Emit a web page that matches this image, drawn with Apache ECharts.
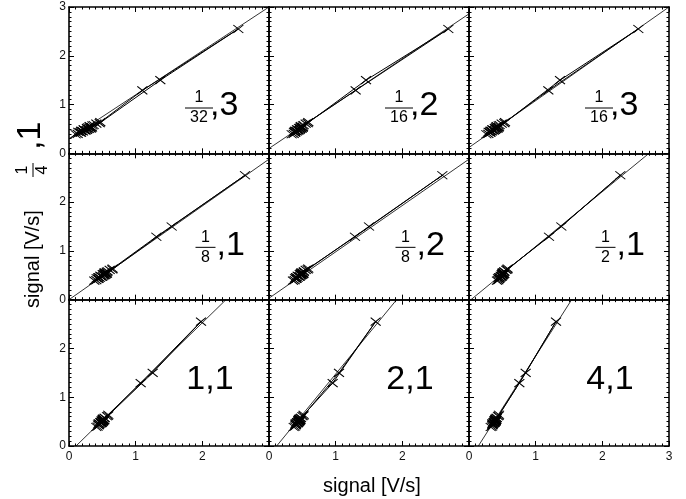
<!DOCTYPE html>
<html><head><meta charset="utf-8">
<script src="https://cdn.jsdelivr.net/npm/echarts@6/dist/echarts.min.js"></script>
<style>html,body{margin:0;padding:0;background:#fff}#c{width:686px;height:499px}</style>
</head><body><div id="c"></div>
<script>
// shared reference signal (y) for each sample, in time order
const ySignal = [0.40,0.44,0.48,0.46,0.515,0.49,0.54,0.51,0.57,0.53,0.61,0.64,1.29,2.55,1.50,0.62,0.56,0.50,0.52,0.47,0.535,0.45,0.485,0.425,0.39,0.47,0.52,0.43,0.55,0.50,0.58,0.46,0.53];
// measured signal (x) per panel
const xPanel1 = [0.13,0.14,0.27,0.19,0.32,0.22,0.34,0.33,0.35,0.345,0.41,0.47,1.10,2.54,1.37,0.46,0.31,0.30,0.27,0.25,0.29,0.21,0.225,0.18,0.10,0.24,0.27,0.17,0.31,0.28,0.37,0.18,0.33];
const xPanel2 = [0.37,0.375,0.46,0.40,0.49,0.42,0.51,0.49,0.51,0.505,0.55,0.59,1.30,2.69,1.455,0.58,0.48,0.47,0.46,0.44,0.475,0.42,0.43,0.39,0.34,0.44,0.45,0.395,0.475,0.47,0.52,0.39,0.505];
const xPanel3 = [0.29,0.295,0.39,0.33,0.42,0.35,0.45,0.43,0.445,0.44,0.49,0.54,1.19,2.54,1.365,0.53,0.415,0.41,0.395,0.37,0.405,0.345,0.355,0.32,0.26,0.37,0.385,0.32,0.415,0.40,0.46,0.32,0.44];
const xPanel4 = [0.41,0.415,0.51,0.45,0.54,0.47,0.57,0.545,0.565,0.56,0.61,0.655,1.31,2.64,1.54,0.65,0.535,0.53,0.515,0.49,0.525,0.465,0.475,0.44,0.38,0.49,0.505,0.44,0.535,0.52,0.58,0.44,0.56];
const xPanel5 = [0.385,0.39,0.465,0.41,0.50,0.43,0.515,0.495,0.52,0.51,0.55,0.59,1.29,2.60,1.50,0.58,0.49,0.48,0.47,0.455,0.475,0.43,0.435,0.41,0.36,0.455,0.46,0.41,0.48,0.48,0.525,0.405,0.515];
const xPanel6 = [0.44,0.435,0.495,0.46,0.51,0.475,0.52,0.515,0.53,0.525,0.56,0.58,1.20,2.27,1.385,0.575,0.51,0.50,0.495,0.485,0.505,0.47,0.48,0.45,0.42,0.485,0.49,0.455,0.50,0.505,0.53,0.45,0.53];
const xPanel7 = [0.43,0.435,0.495,0.45,0.51,0.47,0.52,0.515,0.535,0.525,0.57,0.59,1.075,1.98,1.255,0.585,0.51,0.50,0.49,0.485,0.505,0.46,0.48,0.445,0.41,0.48,0.49,0.45,0.505,0.505,0.535,0.445,0.53];
const xPanel8 = [0.39,0.395,0.44,0.405,0.46,0.42,0.47,0.455,0.475,0.465,0.50,0.52,0.955,1.60,1.05,0.515,0.46,0.45,0.44,0.43,0.445,0.41,0.425,0.40,0.37,0.43,0.44,0.405,0.45,0.445,0.48,0.40,0.47];
const xPanel9 = [0.345,0.35,0.385,0.355,0.40,0.37,0.41,0.40,0.415,0.405,0.435,0.45,0.755,1.305,0.85,0.445,0.40,0.395,0.385,0.375,0.39,0.36,0.37,0.35,0.325,0.375,0.38,0.355,0.395,0.39,0.415,0.35,0.405];
// reference (fit) line end points per panel
const fitStart = [[0,0.30],[0,0.10],[0,0.12],[0,0.0],[0,0.03],[0.03,0],[0.105,0],[0.115,0],[0.14,0]];
const fitEnd   = [[3,3.0],[3,2.86],[3,3.0],[3,2.88],[3,2.88],[2.70,3],[2.355,3],[1.915,3],[1.54,3]];
// panel annotations
const panelNum  = ['1','1','1','1','1','1','','',''];
const panelDen  = ['32','16','16','8','8','2','','',''];
const panelTail = [',3',',2',',3',',1',',2',',1','1,1','2,1','4,1'];
const tickLabels = ['0','1','2','3'];
const axisTitle = 'signal [V/s]';
const sideNum = '1', sideDen = '4', sideTail = ',1';

const FONT = 'Liberation Sans, Arial, Helvetica, sans-serif';
const xs = [xPanel1,xPanel2,xPanel3,xPanel4,xPanel5,xPanel6,xPanel7,xPanel8,xPanel9];
const LEFT0 = 69, W = 200, TOP0 = 7, H = 146.33;
const grids = [], xAxes = [], yAxes = [], series = [], graphics = [];

function axisBase(i, extra) {
  return Object.assign({
    type: 'value', min: 0, max: 3, interval: 1, gridIndex: i,
    axisLine: { show: true, onZero: false, lineStyle: { color: '#000', width: 1.6 } },
    axisTick: { show: true, inside: true, length: 5, lineStyle: { color: '#000', width: 1 } },
    minorTick: { show: true, splitNumber: 10, length: 2.5, lineStyle: { color: '#000', width: 1 } },
    splitLine: { show: false }, minorSplitLine: { show: false },
    axisLabel: { show: false }
  }, extra);
}
function labelCfg(show, showMax, margin) {
  return { show: show, showMaxLabel: showMax, showMinLabel: true, color: '#111', fontSize: 12,
    fontFamily: FONT, margin: margin, formatter: v => tickLabels[Math.round(v)] };
}

for (let i = 0; i < 9; i++) {
  const r = Math.floor(i / 3), c = i % 3;
  const left = LEFT0 + c * W, top = TOP0 + r * H;
  grids.push({ left: left, top: top, width: W, height: H });
  xAxes.push(axisBase(i, { position: 'bottom', axisLabel: labelCfg(r === 2, c === 2, 5) }));
  xAxes.push(axisBase(i, { position: 'top' }));
  yAxes.push(axisBase(i, { position: 'left', axisLabel: labelCfg(c === 0, r === 0, 3) }));
  yAxes.push(axisBase(i, { position: 'right' }));
  series.push({
    type: 'line', xAxisIndex: 2 * i, yAxisIndex: 2 * i, silent: true, z: 3,
    data: xs[i].map((x, k) => [x, ySignal[k]]),
    symbol: 'path://M0,0L10,8M10,0L0,8', symbolSize: [10, 8],
    lineStyle: { color: '#000', width: 1 },
    itemStyle: { color: '#000', borderColor: '#000', borderWidth: 1 }
  });
  series.push({
    type: 'line', xAxisIndex: 2 * i, yAxisIndex: 2 * i, silent: true, z: 2,
    data: [fitStart[i], fitEnd[i]], symbol: 'none',
    lineStyle: { color: '#000', width: 0.8 }
  });
  // annotation
  if (panelNum[i]) {
    const cx = left + (r === 0 ? 130 : 136.5);
    const by = top + (r === 0 ? 101 : 94);
    const bw = panelDen[i].length > 1 ? 28 : 20;
    graphics.push({ type: 'text', x: cx, y: by - 2, silent: true,
      style: { text: panelNum[i], fontSize: 16, fontFamily: FONT, fill: '#000',
        align: 'center', verticalAlign: 'bottom', textAlign: 'center', textVerticalAlign: 'bottom' } });
    graphics.push({ type: 'line', silent: true, shape: { x1: cx - bw / 2, y1: by, x2: cx + bw / 2, y2: by },
      style: { stroke: '#000', lineWidth: 1 } });
    graphics.push({ type: 'text', x: cx, y: by + 2, silent: true,
      style: { text: panelDen[i], fontSize: 16, fontFamily: FONT, fill: '#000',
        align: 'center', verticalAlign: 'top', textAlign: 'center', textVerticalAlign: 'top' } });
    graphics.push({ type: 'text', x: cx + 11, y: by - 2, silent: true,
      style: { text: panelTail[i], fontSize: 34, fontFamily: FONT, fill: '#000',
        align: 'left', verticalAlign: 'middle', textAlign: 'left', textVerticalAlign: 'middle' } });
  } else {
    graphics.push({ type: 'text', x: left + 141, y: top + 80, silent: true,
      style: { text: panelTail[i], fontSize: 34, fontFamily: FONT, fill: '#000',
        align: 'center', verticalAlign: 'middle', textAlign: 'center', textVerticalAlign: 'middle' } });
  }
}
// axis titles
graphics.push({ type: 'text', x: 372, y: 486, silent: true,
  style: { text: axisTitle, fontSize: 20, fontFamily: FONT, fill: '#000',
    align: 'center', verticalAlign: 'middle', textAlign: 'center', textVerticalAlign: 'middle' } });
graphics.push({ type: 'text', x: 33, y: 259, rotation: Math.PI / 2, silent: true,
  style: { text: axisTitle, fontSize: 20, fontFamily: FONT, fill: '#000',
    align: 'center', verticalAlign: 'middle', textAlign: 'center', textVerticalAlign: 'middle' } });
graphics.push({ type: 'group', x: 33, y: 170, rotation: Math.PI / 2, silent: true, children: [
  { type: 'text', x: 0, y: -2, style: { text: sideNum, fontSize: 16, fontFamily: FONT, fill: '#000',
      align: 'center', verticalAlign: 'bottom', textAlign: 'center', textVerticalAlign: 'bottom' } },
  { type: 'line', shape: { x1: -7, y1: 0, x2: 7, y2: 0 }, style: { stroke: '#000', lineWidth: 1 } },
  { type: 'text', x: 0, y: 2, style: { text: sideDen, fontSize: 16, fontFamily: FONT, fill: '#000',
      align: 'center', verticalAlign: 'top', textAlign: 'center', textVerticalAlign: 'top' } },
  { type: 'text', x: 20, y: -2, style: { text: sideTail, fontSize: 34, fontFamily: FONT, fill: '#000',
      align: 'left', verticalAlign: 'middle', textAlign: 'left', textVerticalAlign: 'middle' } }
] });

const chart = echarts.init(document.getElementById('c'), null, { renderer: 'canvas' });
chart.setOption({
  animation: false,
  backgroundColor: '#fff',
  grid: grids, xAxis: xAxes, yAxis: yAxes, series: series, graphic: graphics
});
</script></body></html>
